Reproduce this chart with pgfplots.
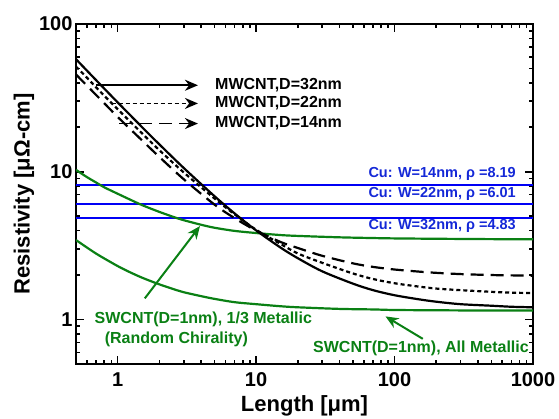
\documentclass[border=0pt]{standalone}
\usepackage{fontspec}
\setmainfont{Liberation Sans}
\usepackage{pgfplots}
\pgfplotsset{compat=1.18}
\usetikzlibrary{arrows.meta}
\definecolor{dgreen}{RGB}{10,128,20}
\definecolor{cublue}{RGB}{0,0,245}
\definecolor{cutext}{RGB}{20,40,215}

\pgfplotstableread{
L     s32    d22    d14
0.5   57.78  51.5   45.5
0.6   48.35  43.3   38.3
0.7   41.61  37.2   33.0
0.8   36.56  32.7   29.1
1     29.48  26.5   23.5
1.5   20.05  18.2   16.3
2     15.33  14.0   12.6
3     10.61  9.9    8.9
5     6.84   6.6    6.0
7     5.22   5.15   4.85
10    4.01   4.05   4.0
15    3.07   3.25   3.35
20    2.60   2.8    3.05
30    2.12   2.42   2.7
50    1.75   2.05   2.4
70    1.58   1.88   2.27
100   1.46   1.76   2.18
150   1.37   1.67   2.11
200   1.32   1.62   2.07
300   1.27   1.58   2.03
500   1.24   1.54   2.0
700   1.22   1.52   1.99
1000  1.21   1.51   1.98
}\mwcnt

\pgfplotstableread{
L     third  allm
0.5   10.3   3.45
0.6   9.2    3.07
0.7   8.45   2.79
0.8   7.85   2.59
1     7.1    2.30
1.2   6.55   2.11
1.5   5.95   1.92
2     5.35   1.73
2.67  4.86   1.58
3     4.7    1.53
4     4.38   1.44
5     4.18   1.38
7     3.98   1.31
10    3.85   1.27
15    3.73   1.23
20    3.68   1.21
40    3.6    1.18
70    3.56   1.17
100   3.54   1.16
200   3.52   1.155
500   3.50   1.15
1000  3.49   1.15
}\swcnt

\begin{document}
\begin{tikzpicture}
\begin{axis}[
  xmode=log, ymode=log,
  scale only axis, width=457pt, height=340pt,
  xmin=0.5, xmax=1000, ymin=0.5, ymax=100,
  xtick={1,10,100,1000}, xticklabels={1,10,100,1000},
  ytick={1,10,100}, yticklabels={1,10,100},
  minor xtick={0.6,0.7,0.8,0.9,2,3,4,5,6,7,8,9,20,30,40,50,60,70,80,90,200,300,400,500,600,700,800,900},
  minor ytick={0.6,0.7,0.8,0.9,2,3,4,5,6,7,8,9,20,30,40,50,60,70,80,90},
  tick align=inside,
  major tick length=8pt, minor tick length=4.5pt,
  every tick/.style={black, line width=1.6pt},
  axis line style={line width=2.5pt},
  ticklabel style={font=\bfseries\fontsize{20}{20}\selectfont},
  xticklabel style={yshift=-5pt},
  xlabel={Length [μm]},
  ylabel={Resistivity [μΩ-cm]},
  label style={font=\bfseries\fontsize{22}{22}\selectfont},
  xlabel style={at={(axis description cs:0.5,0)}, anchor=north, inner sep=0pt, yshift=-31pt},
  ylabel style={yshift=-2pt},
]
% Cu lines
\addplot[cublue, line width=2pt] coordinates {(0.5,8.19) (1000,8.19)};
\addplot[cublue, line width=2pt] coordinates {(0.5,6.01) (1000,6.01)};
\addplot[cublue, line width=2pt] coordinates {(0.5,4.83) (1000,4.83)};
% SWCNT
\addplot[dgreen, line width=2.2pt, smooth] table[x=L, y=third] {\swcnt};
\addplot[dgreen, line width=2.2pt, smooth] table[x=L, y=allm] {\swcnt};
% MWCNT
\addplot[black, line width=2.2pt, smooth] table[x=L, y=s32] {\mwcnt};
\addplot[black, line width=2.2pt, smooth, dash pattern=on 4pt off 3pt] table[x=L, y=d22] {\mwcnt};
\addplot[black, line width=2.2pt, smooth, dash pattern=on 13pt off 7pt] table[x=L, y=d14] {\mwcnt};

% MWCNT annotations
\draw[black, line width=1.8pt, -{Stealth[length=13pt,width=11pt]}] (axis cs:0.70,38.5) -- (axis cs:3.8,38.5);
\draw[black, line width=1.8pt, dash pattern=on 4pt off 3pt, -{Stealth[length=13pt,width=11pt]}] (axis cs:0.905,29) -- (axis cs:3.8,29);
\draw[black, line width=1.8pt, dash pattern=on 13pt off 7pt, -{Stealth[length=13pt,width=11pt]}] (axis cs:1.03,21.2) -- (axis cs:3.8,21.2);
\node[anchor=west, font=\bfseries\fontsize{16}{16}\selectfont, inner sep=0pt] at (axis cs:5.05,38.5) {MWCNT,D=32nm};
\node[anchor=west, font=\bfseries\fontsize{16}{16}\selectfont, inner sep=0pt] at (axis cs:5.05,29) {MWCNT,D=22nm};
\node[anchor=west, font=\bfseries\fontsize{16}{16}\selectfont, inner sep=0pt] at (axis cs:5.05,21.2) {MWCNT,D=14nm};

% Cu annotations
\node[anchor=east, text=cutext, font=\bfseries\fontsize{14.5}{14.5}\selectfont, inner sep=0pt] at (axis cs:754,9.7) {Cu: W=14nm, ρ =8.19};
\node[anchor=east, text=cutext, font=\bfseries\fontsize{14.5}{14.5}\selectfont, inner sep=0pt] at (axis cs:754,7.08) {Cu: W=22nm, ρ =6.01};
\node[anchor=east, text=cutext, font=\bfseries\fontsize{14.5}{14.5}\selectfont, inner sep=0pt] at (axis cs:754,4.29) {Cu: W=32nm, ρ =4.83};

% SWCNT annotations
\draw[dgreen, line width=2pt, -{Stealth[length=13pt,width=11pt]}] (axis cs:1.57,1.39) -- (axis cs:3.93,4.29);
\draw[dgreen, line width=2pt, -{Stealth[length=13pt,width=11pt]}] (axis cs:160,0.74) -- (axis cs:86,1.05);
\node[anchor=west, text=dgreen, font=\bfseries\fontsize{16}{16}\selectfont, inner sep=0pt] at (axis cs:0.68,1.0) {SWCNT(D=1nm), 1/3 Metallic};
\node[anchor=west, text=dgreen, font=\bfseries\fontsize{16}{16}\selectfont, inner sep=0pt] at (axis cs:0.805,0.73) {(Random Chirality)};
\node[anchor=east, text=dgreen, font=\bfseries\fontsize{16}{16}\selectfont, inner sep=0pt] at (axis cs:935,0.635) {SWCNT(D=1nm), All Metallic};
\end{axis}
\pgfresetboundingbox
\useasboundingbox ([xshift=-76pt,yshift=-54pt]current axis.south west) rectangle ([xshift=26pt,yshift=24pt]current axis.north east);
\end{tikzpicture}
\end{document}
